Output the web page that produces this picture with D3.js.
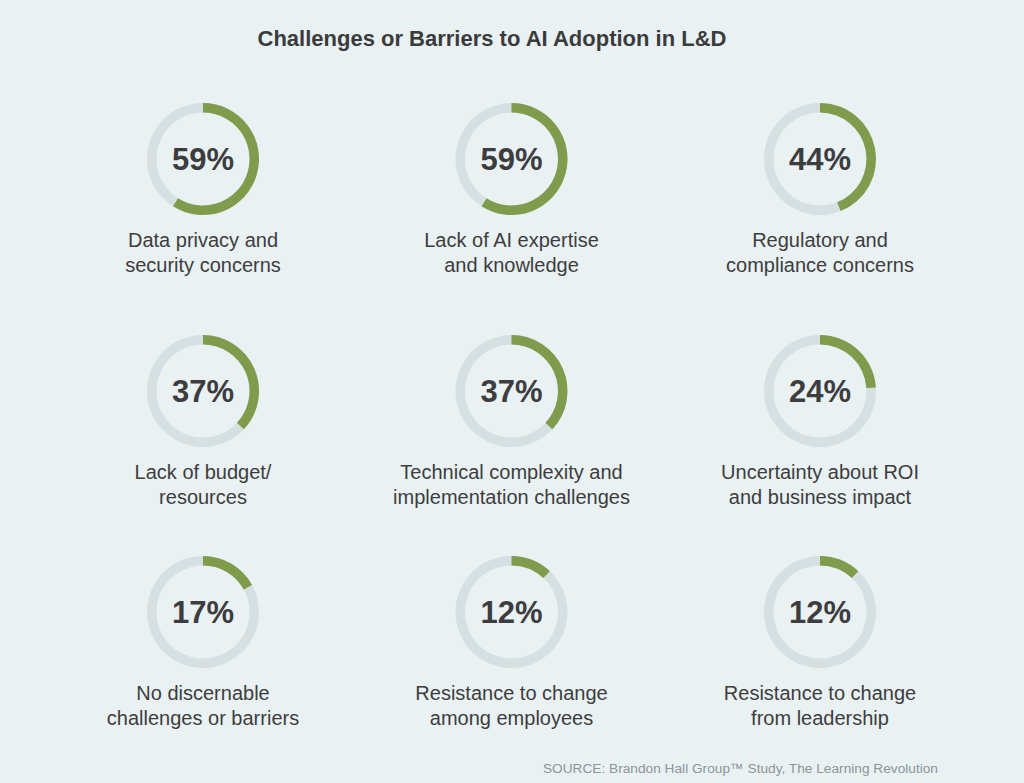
<!DOCTYPE html>
<html>
<head>
<meta charset="utf-8">
<script src="https://cdn.jsdelivr.net/npm/d3@7"></script>
<style>
  html, body { margin: 0; padding: 0; background: #e9f1f3; }
  svg { display: block; font-family: "Liberation Sans", Arial, Helvetica, sans-serif; }
</style>
</head>
<body>
<div id="container"></div>
<script>
const title = "Challenges or Barriers to AI Adoption in L&D";
const source = "SOURCE: Brandon Hall Group\u2122 Study, The Learning Revolution";

const labels = [
  ["Data privacy and", "security concerns"],
  ["Lack of AI expertise", "and knowledge"],
  ["Regulatory and", "compliance concerns"],
  ["Lack of budget/", "resources"],
  ["Technical complexity and", "implementation challenges"],
  ["Uncertainty about ROI", "and business impact"],
  ["No discernable", "challenges or barriers"],
  ["Resistance to change", "among employees"],
  ["Resistance to change", "from leadership"],
];
const values = [59, 59, 44, 37, 37, 24, 17, 12, 12];

const w = 1024;
const h = 783;
const outerR = 56;
const innerR = 46.5;

const svg = d3
  .select("#container")
  .append("svg")
  .attr("width", w)
  .attr("height", h)
  .attr("viewBox", `0 0 ${w} ${h}`);

svg.append("rect").attr("width", w).attr("height", h).attr("fill", "#e9f1f3");

// title
svg
  .append("text")
  .attr("x", 492)
  .attr("y", 46)
  .attr("text-anchor", "middle")
  .style("font-size", "22px")
  .style("font-weight", "bold")
  .attr("fill", "#3b3b3d")
  .text(title);

// grid scales
const xScale = d3.scalePoint().domain([0, 1, 2]).range([203, 820]);
const yScale = d3.scaleOrdinal().domain([0, 1, 2]).range([159, 391, 612]);
const angle = d3.scaleLinear().domain([0, 100]).range([0, 2 * Math.PI]);

const arc = d3.arc().innerRadius(innerR).outerRadius(outerR).startAngle(0);

const cells = svg
  .selectAll("g.cell")
  .data(values)
  .enter()
  .append("g")
  .attr("class", "cell")
  .attr("transform", (d, i) => `translate(${xScale(i % 3)}, ${yScale(Math.floor(i / 3))})`);

// background ring
cells
  .append("path")
  .attr("d", arc({ endAngle: angle(100) }))
  .attr("fill", "#d6dfe2");

// value arc
cells
  .append("path")
  .attr("d", (d) => arc({ endAngle: angle(d) }))
  .attr("fill", "#7f9c4d");

// percent
cells
  .append("text")
  .attr("y", 11)
  .attr("text-anchor", "middle")
  .style("font-size", "31px")
  .style("font-weight", "bold")
  .attr("fill", "#3d3d3f")
  .text((d) => `${d}%`);

// labels
const lbl = cells
  .append("text")
  .attr("text-anchor", "middle")
  .style("font-size", "20px")
  .attr("fill", "#3d3d3f");

lbl
  .selectAll("tspan")
  .data((d, i) => labels[i])
  .enter()
  .append("tspan")
  .attr("x", 0)
  .attr("y", (d, j) => 88 + j * 25)
  .text((d) => d);

// source
svg
  .append("text")
  .attr("x", 938)
  .attr("y", 773)
  .attr("text-anchor", "end")
  .style("font-size", "13.7px")
  .attr("fill", "#8d9599")
  .text(source);
</script>
</body>
</html>
